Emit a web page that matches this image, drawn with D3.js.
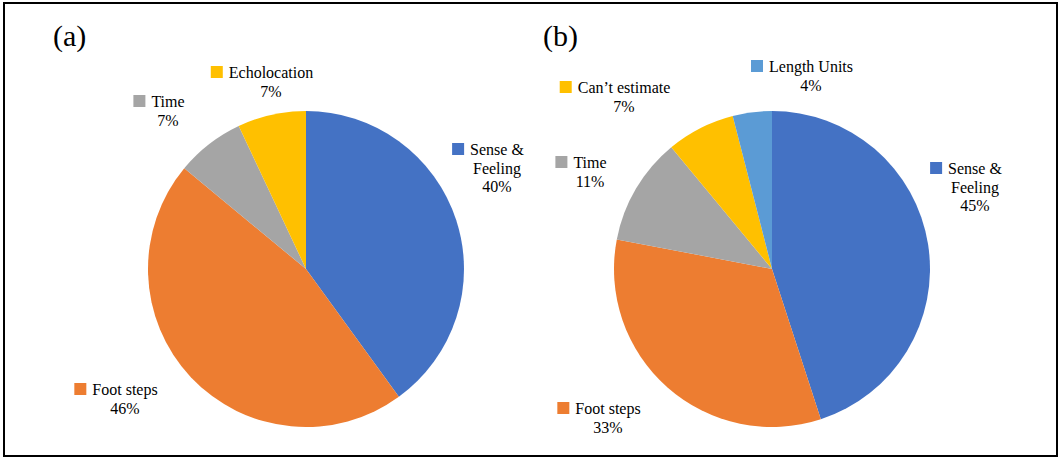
<!DOCTYPE html>
<html><head><meta charset="utf-8">
<script src="https://cdn.jsdelivr.net/npm/d3@7"></script>
<style>
html,body{margin:0;padding:0;background:#fff;}
svg{display:block;}
</style></head><body>
<svg id="chart" width="1059" height="457"></svg>
<script>
// ---- data ----
const catsA = ["Sense & Feeling", "Foot steps", "Time", "Echolocation"];
const valsA = [40, 46, 7, 7];
const catsB = ["Sense & Feeling", "Foot steps", "Time", "Can't estimate", "Length Units"];
const valsB = [45, 33, 11, 7, 4];
const panelTitles = ["(a)", "(b)"];

// ---- styling / layout (separate from data) ----
const FONT = "Liberation Serif";
const colorMap = {
  "Sense & Feeling": "#4472C4",
  "Foot steps": "#ED7D31",
  "Time": "#A5A5A5",
  "Echolocation": "#FFC000",
  "Can't estimate": "#FFC000",
  "Length Units": "#5B9BD5"
};
const labelLinesMap = {
  "Sense & Feeling": ["Sense &", "Feeling"],
  "Can't estimate": ["Can\u2019t estimate"]
};
const panels = [
  { cats: catsA, vals: valsA, cx: 306, cy: 269, r: 158, title: panelTitles[0], tx: 53, ty: 46,
    labels: [ {x: 497, y: 155}, {x: 125, y: 395}, {x: 168, y: 107}, {x: 271, y: 78} ] },
  { cats: catsB, vals: valsB, cx: 772, cy: 269, r: 158, title: panelTitles[1], tx: 543, ty: 46,
    labels: [ {x: 975, y: 174}, {x: 608, y: 414}, {x: 590, y: 168}, {x: 624, y: 93}, {x: 811, y: 72} ] }
];
const fontSize = 16, lineH = 18.5, keySize = 12;

const svg = d3.select("#chart");
// outer frame
svg.append("rect").attr("x", 4).attr("y", 3).attr("width", 1053).attr("height", 453)
  .attr("fill", "none").attr("stroke", "#000").attr("stroke-width", 2);

panels.forEach(p => {
  const total = d3.sum(p.vals);
  const pie = d3.pie().sort(null).value(d => d.v);
  const arcs = pie(p.cats.map((c, i) => ({ c, v: p.vals[i] })));
  const arc = d3.arc().innerRadius(0).outerRadius(p.r);
  const g = svg.append("g").attr("transform", `translate(${p.cx},${p.cy})`);
  g.selectAll("path").data(arcs).join("path")
    .attr("d", arc).attr("fill", d => colorMap[d.data.c]);

  svg.append("text").attr("x", p.tx).attr("y", p.ty)
    .attr("font-family", FONT).attr("font-size", 30).text(p.title);

  arcs.forEach((a, i) => {
    const L = p.labels[i];
    const lines = (labelLinesMap[a.data.c] || [a.data.c]).concat([Math.round(a.data.v / total * 100) + "%"]);
    const lg = svg.append("g");
    let firstW = 0;
    lines.forEach((t, k) => {
      const tn = lg.append("text").attr("x", L.x).attr("y", L.y + k * lineH)
        .attr("text-anchor", "middle").attr("font-family", FONT)
        .attr("font-size", fontSize).text(t);
      if (k === 0) firstW = tn.node().getComputedTextLength();
    });
    lg.append("rect").attr("x", L.x - firstW / 2 - keySize - 6).attr("y", L.y - keySize)
      .attr("width", keySize).attr("height", keySize).attr("fill", colorMap[a.data.c]);
  });
});
</script>
</body></html>
